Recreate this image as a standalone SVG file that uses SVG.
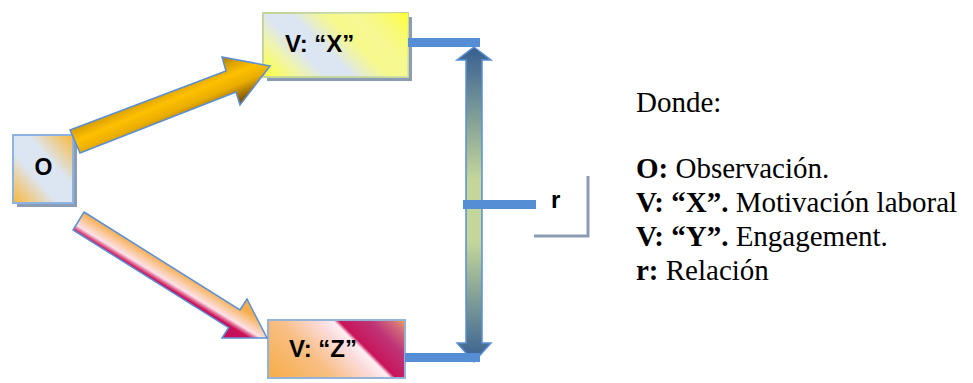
<svg xmlns="http://www.w3.org/2000/svg" width="973" height="383" viewBox="0 0 973 383">
<defs>
<linearGradient id="gO" x1="0" y1="1" x2="1" y2="0">
<stop offset="0" stop-color="#fbb738"/>
<stop offset="0.38" stop-color="#dce6f2"/>
<stop offset="0.62" stop-color="#dce6f2"/>
<stop offset="1" stop-color="#fbb738"/>
</linearGradient>
<linearGradient id="gX" gradientUnits="userSpaceOnUse" x1="263" y1="77" x2="327" y2="13">
<stop offset="0" stop-color="#ffff33"/>
<stop offset="0.3" stop-color="#f1f5a8"/>
<stop offset="0.5" stop-color="#dce6f2"/>
<stop offset="0.72" stop-color="#dce6f2"/>
<stop offset="1" stop-color="#ffff66"/>
</linearGradient>
<linearGradient id="gX2" gradientUnits="userSpaceOnUse" x1="340" y1="77" x2="408" y2="13">
<stop offset="0" stop-color="#dce6f2" stop-opacity="0"/>
<stop offset="0.55" stop-color="#eef2c0" stop-opacity="0.5"/>
<stop offset="1" stop-color="#ffff33"/>
</linearGradient>
<linearGradient id="gZ" gradientUnits="userSpaceOnUse" x1="268" y1="378" x2="365" y2="281">
<stop offset="0" stop-color="#f7ad45"/>
<stop offset="0.35" stop-color="#f8bf86"/>
<stop offset="0.55" stop-color="#fcdcdc"/>
<stop offset="0.63" stop-color="#fdeef2"/>
<stop offset="0.66" stop-color="#c8145a"/>
<stop offset="0.82" stop-color="#bf3577"/>
<stop offset="0.93" stop-color="#d26a7c"/>
<stop offset="1" stop-color="#f2a050"/>
</linearGradient>
<linearGradient id="gGold" gradientUnits="userSpaceOnUse" x1="65" y1="118" x2="85" y2="165">
<stop offset="0" stop-color="#8a5c00"/>
<stop offset="0.28" stop-color="#d9a000"/>
<stop offset="0.5" stop-color="#ffc000"/>
<stop offset="0.72" stop-color="#e9ad00"/>
<stop offset="1" stop-color="#8a5c00"/>
</linearGradient>
<linearGradient id="gPink" gradientUnits="userSpaceOnUse" x1="84" y1="212" x2="73" y2="230">
<stop offset="0" stop-color="#f7ad4a"/>
<stop offset="0.72" stop-color="#fde2ea"/>
<stop offset="0.88" stop-color="#e0608a"/>
<stop offset="1" stop-color="#c8105a"/>
</linearGradient>
<linearGradient id="gV" x1="0" y1="0" x2="0" y2="1">
<stop offset="0" stop-color="#365f91"/>
<stop offset="0.42" stop-color="#c3d69b"/>
<stop offset="0.62" stop-color="#c3d69b"/>
<stop offset="1" stop-color="#365f91"/>
</linearGradient>
</defs>
<style>
.shadow{fill:#8c9cb2}
.lbl{font-family:"Liberation Sans",Arial,sans-serif;font-weight:bold;fill:#000}
.bar{fill:#558ed5}
.arr{stroke:#5a8fd6;stroke-width:1.5;stroke-linejoin:miter}
.leg{font-family:"Liberation Serif","Times New Roman",serif;font-size:29px;fill:#000}
.leg tspan.b{font-weight:bold}
</style>

<g id="node-O">
<rect class="shadow" x="17" y="139" width="60" height="68"/>
<rect x="13" y="135" width="60" height="68" fill="url(#gO)" stroke="#8db3e2" stroke-width="2"/>
<text class="lbl" x="43.5" y="175" font-size="23" text-anchor="middle">O</text>
</g>

<g id="node-X">
<rect class="shadow" x="267" y="17" width="145" height="64"/>
<rect x="263" y="13" width="145" height="64" fill="url(#gX)" stroke="#c3d69b" stroke-width="2"/>
<rect x="263" y="13" width="145" height="64" fill="url(#gX2)"/>
<text class="lbl" x="285" y="52" font-size="24">V: “X”</text>
</g>

<g id="node-Z">
<rect x="268" y="320" width="137" height="58" fill="url(#gZ)" stroke="#95b3d7" stroke-width="2"/>
<text class="lbl" x="289" y="357" font-size="24">V: “Z”</text>
</g>

<g id="node-r">
<text class="lbl" x="551" y="208" font-size="24">r</text>
<path d="M588 176 V236 H534" fill="none" stroke="#8c9cb2" stroke-width="3"/>
</g>

<g id="connectors">
<polygon class="arr" fill="url(#gGold)" points="70,130 226,71 222,57 270,66 240,105 236,92 80,153"/>
<polygon class="arr" fill="url(#gPink)" points="84,212 240,310 247,299 267,338 222,338 228.6,327.7 73,230"/>
<polygon class="arr" fill="url(#gV)" points="474,47 491,60 482,60 482,343 491,343 474,362 457,343 466,343 466,60 457,60"/>
<rect class="bar" x="408" y="38" width="72" height="9"/>
<rect class="bar" x="405" y="353" width="75" height="9"/>
<rect class="bar" x="463" y="200" width="73" height="9"/>
</g>

<g id="legend">
<text class="leg" x="636" y="112">Donde:</text>
<text class="leg" x="636" y="178"><tspan class="b">O:</tspan> Observación.</text>
<text class="leg" x="636" y="212"><tspan class="b">V: “X”.</tspan> Motivación laboral</text>
<text class="leg" x="636" y="246"><tspan class="b">V: “Y”.</tspan> Engagement.</text>
<text class="leg" x="636" y="280"><tspan class="b">r:</tspan> Relación</text>
</g>
</svg>
